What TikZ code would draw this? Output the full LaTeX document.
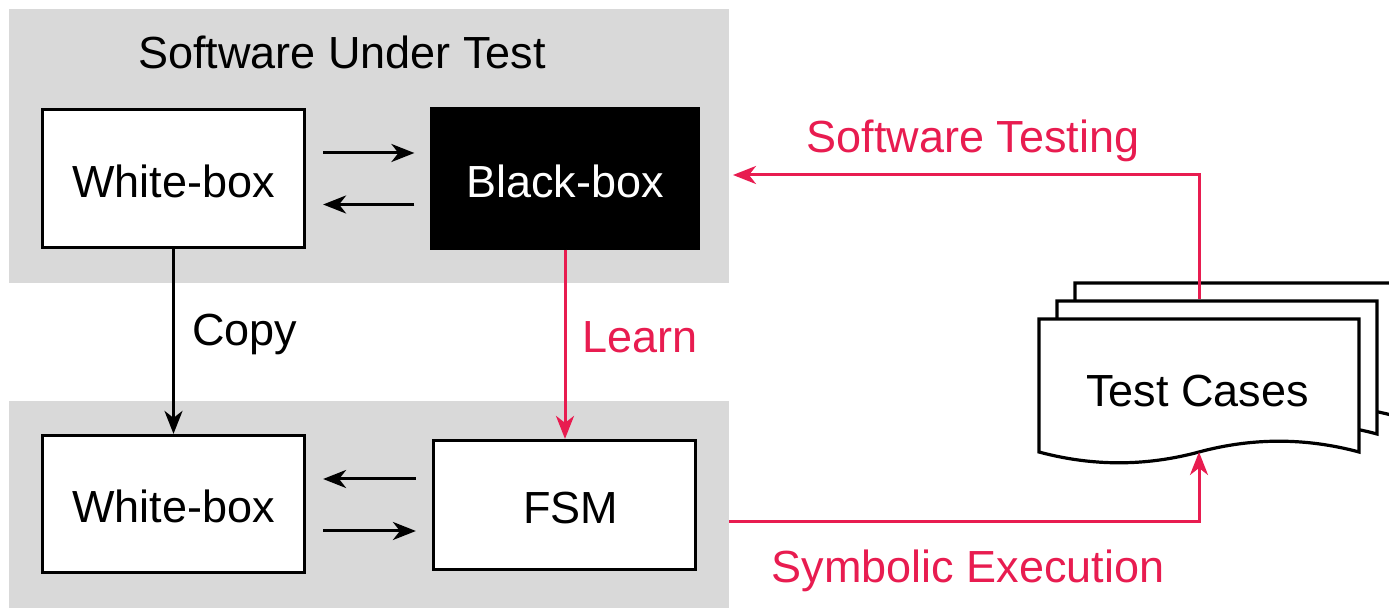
\documentclass[tikz,border=0pt]{standalone}
\usepackage{fontspec}
\setmainfont{Liberation Sans}
\usetikzlibrary{arrows.meta,calc}
\definecolor{panelgray}{HTML}{D9D9D9}
\definecolor{accent}{RGB}{232,28,80}
\tikzset{
  docpage/.pic={
    \draw[pageline] (0,0) -- (320,0) -- (320,133)
      .. controls (266.67,118.6) and (213.33,118.6) .. (160,133)
      .. controls (106.67,147.4) and (53.33,147.4) .. (0,133) -- cycle;
    \coordinate (-top) at (160,0);
    \coordinate (-bot) at (160,133);
  }
}
\begin{document}
\begin{tikzpicture}[x=0.5pt,y=-0.5pt,
  every node/.style={font=\fontsize{22.5pt}{27pt}\selectfont},
  panel/.style={fill=panelgray, draw=none, inner sep=0pt, outer sep=0pt},
  box/.style={draw=black, line width=1.6pt, fill=white, inner sep=0pt,
    text height=19pt, text depth=0pt},
  darkbox/.style={box, fill=black, text=white},
  tip/.style={-{Stealth[length=11.5pt,width=9pt,inset=3.5pt]}},
  link/.style={tip, line width=1.5pt, draw=black},
  redlink/.style={tip, line width=1.5pt, draw=accent},
  pageline/.style={draw=black, fill=white, line width=1.6pt},
  lbl/.style={anchor=base, inner sep=0pt},
]
\useasboundingbox (0,0) rectangle (1389,608);
\clip (0,0) rectangle (1389,608);

% grey group panels
\node[panel, minimum width=360pt, minimum height=137pt] (sut) at (369,146) {};
\node[panel, minimum width=360pt, minimum height=103.5pt] (lab) at (369,504.5) {};

% boxes of the software under test
\node[box, minimum width=131pt, minimum height=69pt] (wbA) at (173.5,178.5) {White-box};
\node[darkbox, minimum width=133pt, minimum height=69.5pt] (bb) at (565,178.5) {Black-box};
% boxes of the learned model
\node[box, minimum width=131pt, minimum height=68.5pt] (wbB) at (173.5,504) {White-box};
\node[box, minimum width=131pt, minimum height=64.5pt] (fsm) at (564.5,505) {\hspace*{6pt}FSM};

\node[lbl] (title) at (342,69) {Software Under Test};

% interaction arrows
\draw[link, shorten <=8.5pt, shorten >=8pt]
  ([yshift=12.75pt]wbA.east) -- ([yshift=12.75pt]bb.west);
\draw[link, shorten <=8pt, shorten >=8.5pt]
  ([yshift=-13pt]bb.west) -- ([yshift=-13pt]wbA.east);
\draw[link, shorten <=8pt, shorten >=8.5pt]
  ([yshift=13pt]fsm.west) -- ([yshift=13pt]fsm.west -| wbB.east);
\draw[link, shorten <=8.5pt, shorten >=8pt]
  ([yshift=-13pt]fsm.west -| wbB.east) -- ([yshift=-13pt]fsm.west);

% copy and learn
\draw[link] (wbA.south) -- (wbB.north);
\node[lbl, anchor=base west] (copy) at (192,346) {Copy};
\draw[redlink] (bb.south) -- (bb.south |- fsm.north);
\node[lbl, anchor=base west, text=accent] (learn) at (582,353) {Learn};

% stack of test cases
\pic (back) at (1075,283) {docpage};
\pic (middle) at (1057,301) {docpage};
\pic (front) at (1039,319) {docpage};
\node[lbl] (tc) at (1197.5,407) {Test Cases};

% testing and symbolic execution
\coordinate (stend) at (733,175);
\coordinate (symstart) at (729,522);
\draw[redlink] ([yshift=0.8pt]front-top |- middle-top) |- (stend);
\node[lbl, text=accent] (stlabel) at (973,153) {Software Testing};
\draw[redlink] (symstart) -| (front-bot);
\node[lbl, text=accent] (selabel) at (968,583) {Symbolic Execution};
\end{tikzpicture}
\end{document}
